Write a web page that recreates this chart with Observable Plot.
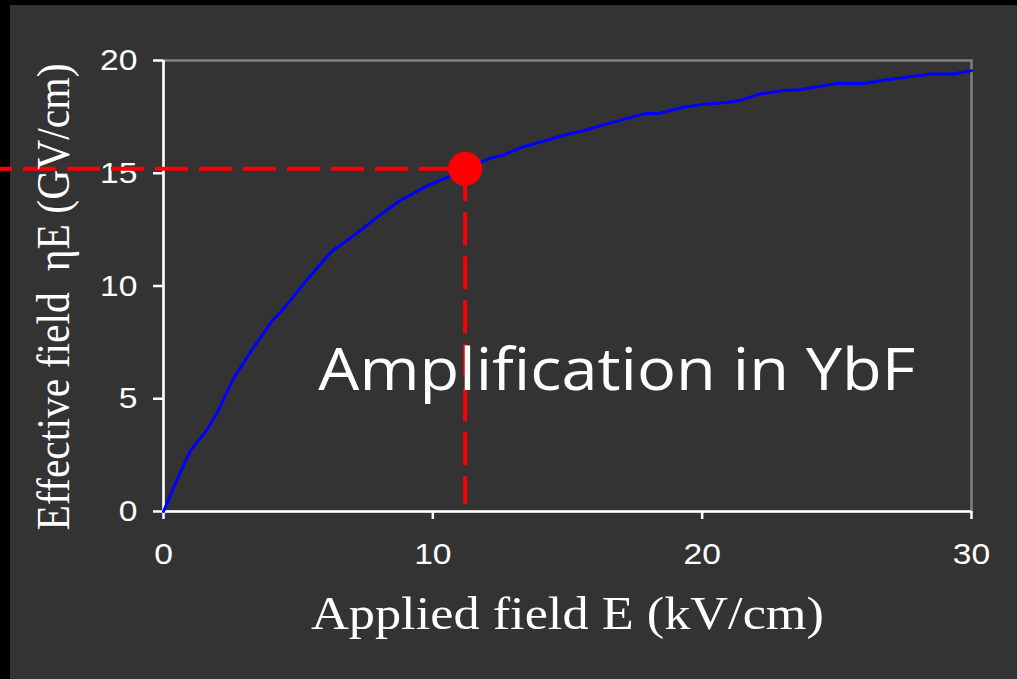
<!DOCTYPE html>
<html>
<head>
<meta charset="utf-8">
<script src="https://cdn.jsdelivr.net/npm/d3@7"></script>
<script src="https://cdn.jsdelivr.net/npm/@observablehq/plot@0.6"></script>
<style>
html, body { margin: 0; padding: 0; background: #000; }
#wrap { position: relative; width: 1017px; height: 679px; overflow: hidden; }
#bg { position: absolute; left: 10px; top: 5px; right: 0; bottom: 0; background: #333333; }
#chart { position: absolute; left: 0; top: 0; }
</style>
</head>
<body>
<div id="wrap"><div id="bg"></div><div id="chart"></div></div>
<script>
// Applied field E (kV/cm)
const appliedField = [0, 0.5, 1.0, 1.6, 2.0, 2.6, 3.3, 4.0, 4.5, 5.1, 5.7, 6.3, 6.8, 7.4, 8.1, 8.8, 9.8, 10.7, 11.2, 11.6, 12.2, 12.6, 13.3, 14.2, 15.1, 15.5, 16.5, 17.9, 18.4, 19.2, 20.0, 20.9, 21.4, 22.1, 23.0, 23.6, 25.0, 26.0, 26.6, 27.5, 28.5, 29.3, 30.0];
// Effective field ηE (GV/cm)
const effectiveField = [0, 1.4, 2.7, 3.6, 4.4, 5.9, 7.2, 8.4, 9.05, 9.95, 10.8, 11.6, 12.0, 12.55, 13.2, 13.8, 14.45, 14.9, 15.2, 15.4, 15.7, 15.8, 16.15, 16.45, 16.76, 16.85, 17.2, 17.65, 17.65, 17.9, 18.05, 18.14, 18.23, 18.5, 18.67, 18.7, 18.98, 18.98, 19.1, 19.25, 19.4, 19.4, 19.55];
// Highlighted operating point
const markerE = [11.2];
const markerEta = [15.2];
const guideFloor = 0.3;
// Ticks
const xTicks = [0, 10, 20, 30];
const yTicks = [0, 5, 10, 15, 20];
// Texts
const xAxisLabel = "Applied field E (kV/cm)";
const yAxisLabel = "Effective field  \u03b7E (GV/cm)";
const annotationText = "Amplification in YbF";
const annotationE = [5.75];
const annotationEta = [5.37];

const curve = appliedField.map((E, i) => ({E, eta: effectiveField[i]}));
const marker = markerE.map((E, i) => ({E, eta: markerEta[i]}));
const annotation = annotationE.map((E, i) => ({E, eta: annotationEta[i], label: annotationText}));

const serif = "'Liberation Serif', 'Times New Roman', serif";
const sans = "'Liberation Sans', Arial, sans-serif";

const plot = Plot.plot({
  width: 1017,
  height: 679,
  marginLeft: 163,
  marginRight: 46,
  marginTop: 60,
  marginBottom: 168,
  style: {background: "transparent", color: "#ffffff", fontFamily: sans, fontSize: "30px", overflow: "visible"},
  x: {domain: [0, 30]},
  y: {domain: [0, 20]},
  marks: [
    Plot.frame({stroke: "#808080", strokeWidth: 2.5}),
    Plot.axisX({ticks: xTicks, tickSize: 8, tickPadding: 23, label: null, strokeWidth: 2.5, fontSize: 30}),
    Plot.axisY({ticks: yTicks, tickSize: 10, tickPadding: 16, label: null, strokeWidth: 2.5, fontSize: 30}),
    Plot.ruleX([0], {stroke: "#ffffff", strokeWidth: 2.5}),
    Plot.ruleY([0], {stroke: "#ffffff", strokeWidth: 2.5}),
    Plot.line(curve, {x: "E", y: "eta", stroke: "#0000ff", strokeWidth: 3}),
    Plot.ruleY(marker, {y: "eta", x2: "E", stroke: "#ff0000", strokeWidth: 4, strokeDasharray: "33,11", strokeDashoffset: 21, insetLeft: -163}),
    Plot.ruleX(marker, {x: "E", y1: "eta", y2: guideFloor, stroke: "#ff0000", strokeWidth: 4, strokeDasharray: "33,11"}),
    Plot.dot(marker, {x: "E", y: "eta", r: 17, fill: "#ff0000", stroke: null}),
    Plot.text([xAxisLabel], {text: d => d, frameAnchor: "bottom", lineAnchor: "bottom", textAnchor: "middle", dy: 117, fontFamily: serif, fontSize: 46, fill: "#ffffff"}),
    Plot.text([yAxisLabel], {text: d => d, frameAnchor: "left", rotate: -90, lineAnchor: "bottom", textAnchor: "middle", dx: -95, dy: 11, fontFamily: serif, fontSize: 47, fill: "#ffffff"}),
    Plot.text(annotation, {x: "E", y: "eta", text: "label", textAnchor: "start", lineAnchor: "bottom", fontFamily: "'Comic Sans MS', 'Open Sans', 'Noto Sans', sans-serif", fontSize: 58, fill: "#ffffff"})
  ]
});

document.getElementById("chart").appendChild(plot);

// Tick labels are slightly wide in the reference; long labels fitted to reference widths
const tickStrings = new Set([...xTicks, ...yTicks].map(String));
plot.querySelectorAll("text").forEach(t => {
  const s = t.textContent;
  if (tickStrings.has(s)) {
    const w = t.getComputedTextLength();
    if (w > 0) { t.setAttribute("textLength", (w * 1.12).toFixed(1)); t.setAttribute("lengthAdjust", "spacingAndGlyphs"); }
  }
  if (s === xAxisLabel) { t.setAttribute("textLength", 513); t.setAttribute("lengthAdjust", "spacingAndGlyphs"); }
  if (s === yAxisLabel) { t.setAttribute("textLength", 467); t.setAttribute("lengthAdjust", "spacingAndGlyphs"); }
  if (s === annotationText) { t.setAttribute("textLength", 597); t.setAttribute("lengthAdjust", "spacingAndGlyphs"); }
});
</script>
</body>
</html>
